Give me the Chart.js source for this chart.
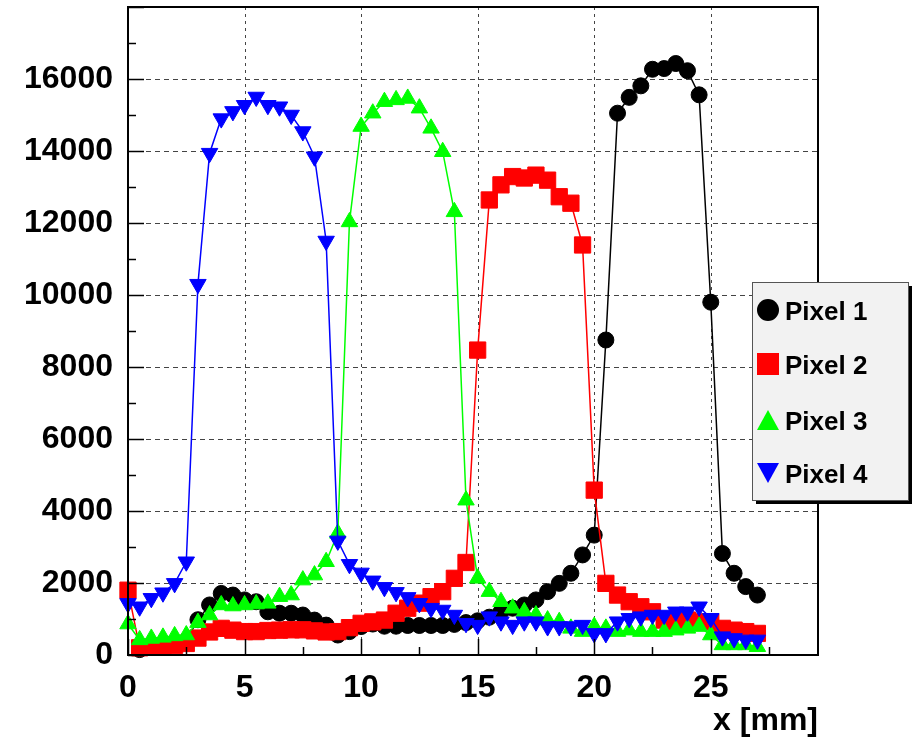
<!DOCTYPE html>
<html>
<head>
<meta charset="utf-8">
<script src="https://cdn.jsdelivr.net/npm/chart.js@4/dist/chart.umd.min.js"></script>
<style>
  html, body { margin: 0; padding: 0; background: #fff; }
  #wrap { width: 914px; height: 742px; }
</style>
</head>
<body>
<div id="wrap"><canvas id="plot" width="914" height="742"></canvas></div>
<script>
// position along the scan, mm
const xs = [
  0, 0.5, 1, 1.5, 2, 2.5, 3, 3.5, 4, 4.5, 5, 5.5, 6, 6.5, 7, 7.5, 8, 8.5, 9, 9.5,
  10, 10.5, 11, 11.5, 12, 12.5, 13, 13.5, 14, 14.5, 15, 15.5, 16, 16.5, 17, 17.5,
  18, 18.5, 19, 19.5, 20, 20.5, 21, 21.5, 22, 22.5, 23, 23.5, 24, 24.5, 25, 25.5,
  26, 26.5, 27
];

// first point not visible in the picture (hidden under the others)
const pixel1 = [
  null, 150, 250, 300, 330, 400, 980, 1390, 1710, 1665, 1530, 1480, 1200, 1160, 1160, 1110, 970, 830, 555, 650,
  790, 860, 800, 800, 820, 820, 820, 820, 850, 900, 950, 1050, 1200, 1300, 1390, 1530,
  1760, 1990, 2270, 2780, 3330, 8750, 15050, 15490, 15810, 16270, 16290, 16430, 16230, 15560, 9800, 2820,
  2270, 1900, 1665
];

const pixel2 = [
  1800, 200, 220, 250, 270, 320, 470, 640, 740, 690, 650, 650, 680, 690, 700, 700, 670, 640, 650, 760,
  880, 920, 970, 1160, 1300, 1440, 1620, 1760, 2130, 2570, 8470, 12640, 13060, 13290, 13250, 13330,
  13190, 12730, 12550, 11390, 4580, 1990, 1665, 1480, 1340, 1200, 970, 925, 970, 920, 920, 740,
  690, 650, 600
];

const pixel3 = [
  860, 420, 460, 490, 530, 555, 900, 1110, 1390, 1360, 1390, 1415, 1435, 1620, 1665, 2080, 2220, 2590, 3380, 12030,
  14680, 15050, 15370, 15420, 15460, 15190, 14630, 13980, 12310, 4300, 2130, 1760, 1480, 1300, 1200, 1110,
  970, 925, 740, 650, 790, 740, 650, 690, 650, 650, 650, 690, 740, 790, 555, 280,
  280, 280, 230
];

const pixel4 = [
  1435, 1340, 1575, 1730, 1990, 2590, 10300, 13940, 14900, 15100, 15270, 15500, 15270, 15230, 15000, 14540, 13840, 11500, 3170, 2520,
  2280, 2060, 1880, 1740, 1600, 1435, 1300, 1250, 1110, 880, 830, 1065, 925, 830, 925, 925,
  790, 790, 790, 830, 600, 600, 925, 1020, 1065, 1110, 1110, 1200, 1200, 1340, 1020, 510,
  460, 420, 420
];

const seriesNames = ["Pixel 1", "Pixel 2", "Pixel 3", "Pixel 4"];
const seriesColours = ["#000000", "#ff0000", "#00ff00", "#0000ff"];

const xMin = 0, xMax = 29.6;
const yMin = 0, yMax = 18000;

const font = "Liberation Sans, Arial, Helvetica, sans-serif";

function points(values) {
  return xs.map((x, i) => ({ x: x, y: values[i] }));
}

function series(i, values, style, radius, rotation) {
  return {
    label: seriesNames[i],
    data: points(values),
    borderColor: seriesColours[i],
    backgroundColor: seriesColours[i],
    borderWidth: 1.5,
    pointStyle: style,
    pointRadius: radius,
    pointRotation: rotation,
    pointBorderWidth: 1,
    pointBackgroundColor: seriesColours[i],
    pointBorderColor: seriesColours[i],
    order: 4 - i,
    clip: false
  };
}

// legend marker shapes, drawn by hand so the box can overlap the frame
function marker(ctx, kind, cx, cy, s) {
  ctx.beginPath();
  if (kind === "circle") {
    ctx.arc(cx, cy, s / 2, 0, Math.PI * 2);
  } else if (kind === "rect") {
    ctx.rect(cx - s / 2, cy - s / 2, s, s);
  } else if (kind === "up") {
    ctx.moveTo(cx, cy - s * 0.45);
    ctx.lineTo(cx + s / 2, cy + s * 0.45);
    ctx.lineTo(cx - s / 2, cy + s * 0.45);
    ctx.closePath();
  } else {
    ctx.moveTo(cx, cy + s * 0.45);
    ctx.lineTo(cx + s / 2, cy - s * 0.45);
    ctx.lineTo(cx - s / 2, cy - s * 0.45);
    ctx.closePath();
  }
  ctx.fill();
}

const rootStyle = {
  id: "rootStyle",
  beforeDatasetsDraw(chart) {
    const { ctx, chartArea: a, scales: { x, y } } = chart;
    ctx.save();
    ctx.strokeStyle = "#444";
    ctx.lineWidth = 1;
    ctx.setLineDash([3, 4]);
    x.ticks.forEach(t => {
      if (t.value % 5 !== 0 || t.value <= xMin) return;
      const px = Math.round(x.getPixelForValue(t.value)) + 0.5;
      ctx.beginPath(); ctx.moveTo(px, a.top); ctx.lineTo(px, a.bottom); ctx.stroke();
    });
    ctx.setLineDash([5, 4]);
    y.ticks.forEach(t => {
      if (t.value % 2000 !== 0 || t.value <= yMin || t.value >= yMax) return;
      const py = Math.round(y.getPixelForValue(t.value)) + 0.5;
      ctx.beginPath(); ctx.moveTo(a.left, py); ctx.lineTo(a.right, py); ctx.stroke();
    });
    ctx.restore();
  },
  afterDatasetsDraw(chart) {
    const { ctx, chartArea: a, scales: { x, y } } = chart;
    ctx.save();
    ctx.setLineDash([]);
    ctx.strokeStyle = "#000";
    ctx.lineWidth = 1.5;
    x.ticks.forEach(t => {
      const len = t.value % 5 === 0 ? 16 : 8;
      const px = Math.round(x.getPixelForValue(t.value)) + 0.5;
      ctx.beginPath(); ctx.moveTo(px, a.bottom); ctx.lineTo(px, a.bottom - len); ctx.stroke();
    });
    y.ticks.forEach(t => {
      const len = t.value % 2000 === 0 ? 16 : 8;
      const py = Math.round(y.getPixelForValue(t.value)) + 0.5;
      ctx.beginPath(); ctx.moveTo(a.left, py); ctx.lineTo(a.left + len, py); ctx.stroke();
    });
    ctx.lineWidth = 2;
    ctx.strokeRect(a.left, a.top, a.right - a.left, a.bottom - a.top);
    ctx.restore();
  },
  afterDraw(chart) {
    const ctx = chart.ctx;
    const bx = 752, by = 282, bw = 156, bh = 218;
    const shapes = ["circle", "rect", "up", "down"];
    const rows = [310, 364, 420, 473];
    ctx.save();
    ctx.fillStyle = "#000";
    ctx.fillRect(bx + 4, by + 4, bw, bh);
    ctx.fillStyle = "#f2f2f2";
    ctx.fillRect(bx, by, bw, bh);
    ctx.strokeStyle = "#555";
    ctx.lineWidth = 1;
    ctx.strokeRect(bx + 0.5, by + 0.5, bw, bh);
    chart.data.datasets.forEach((ds, i) => {
      ctx.fillStyle = ds.backgroundColor;
      marker(ctx, shapes[i], 768, rows[i], 22);
      ctx.fillStyle = "#000";
      ctx.font = "bold 26px " + font;
      ctx.textBaseline = "alphabetic";
      ctx.textAlign = "left";
      ctx.fillText(ds.label, 785, rows[i] + 10);
    });
    ctx.restore();
  }
};

new Chart(document.getElementById("plot"), {
  type: "line",
  data: {
    datasets: [
      series(0, pixel1, "circle", 8, 0),
      series(1, pixel2, "rect", 11.5, 0),
      series(2, pixel3, "triangle", 9.5, 0),
      series(3, pixel4, "triangle", 9.5, 180)
    ]
  },
  options: {
    responsive: false,
    animation: false,
    devicePixelRatio: 1,
    layout: { autoPadding: false, padding: { top: 7, right: 96, bottom: 0, left: 0 } },
    plugins: {
      legend: { display: false },
      tooltip: { enabled: false }
    },
    scales: {
      x: {
        type: "linear",
        min: xMin,
        max: xMax,
        grid: { display: false, drawTicks: false },
        border: { display: false },
        ticks: {
          stepSize: 2.5,
          includeBounds: false,
          autoSkip: false,
          maxRotation: 0,
          padding: 14,
          color: "#000",
          font: { family: font, size: 32, weight: "bold" },
          callback: v => (v % 5 === 0 ? String(v) : "")
        },
        title: {
          display: true,
          text: "x [mm]",
          align: "end",
          color: "#000",
          font: { family: font, size: 32, weight: "bold" },
          padding: { top: 0, bottom: 2 }
        },
        afterFit(scale) {
          scale.height = 87;
          scale.paddingLeft = 0;
          scale.paddingRight = 0;
        }
      },
      y: {
        min: yMin,
        max: yMax,
        grid: { display: false, drawTicks: false },
        border: { display: false },
        ticks: {
          stepSize: 1000,
          autoSkip: false,
          padding: 15,
          color: "#000",
          font: { family: font, size: 32, weight: "bold" },
          callback: v => (v % 2000 === 0 && v < yMax ? String(v) : "")
        },
        afterFit(scale) {
          scale.width = 128;
          scale.paddingTop = 0;
          scale.paddingBottom = 0;
        }
      }
    }
  },
  plugins: [rootStyle]
});
</script>
</body>
</html>
